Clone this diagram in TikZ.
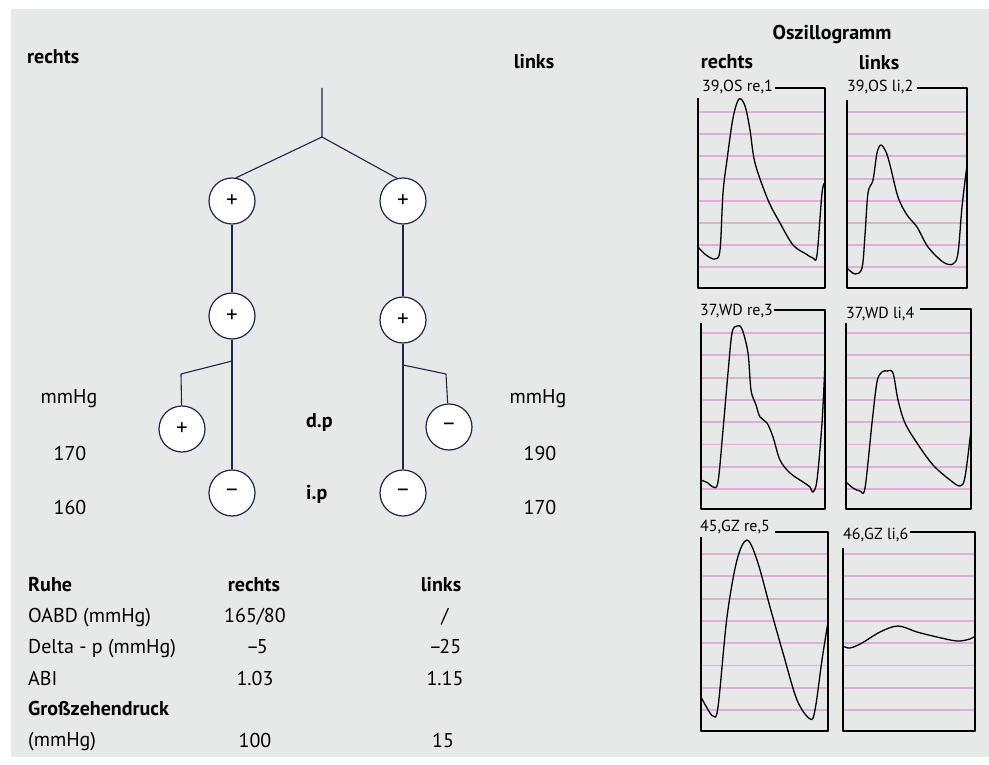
\documentclass[tikz,border=0pt]{standalone}
\usepackage{fontspec}
\setmainfont{PT Sans}
\definecolor{bgc}{RGB}{231,232,232}
\definecolor{navy}{RGB}{30,38,78}
\definecolor{rasterpink}{RGB}{222,174,216}

\begin{document}
\begin{tikzpicture}[x=1pt,y=-1pt,join=round,
        knot/.style={circle,draw=navy,fill=white,line width=1.2pt,minimum size=46pt,inner sep=0pt,font=\fontsize{23}{23}\selectfont},
        ast/.style={draw=navy,line width=1.1pt},
        txt/.style={inner sep=0pt,text height=14pt,text depth=0pt,font=\fontsize{20}{22}\selectfont},
        fett/.style={txt,font=\fontsize{20}{22}\selectfont\bfseries},
        osc/.style={inner sep=0pt,anchor=mid west,font=\fontsize{16}{16}\selectfont},
        rahmen/.style={line width=1.5pt},
        raster/.style={rasterpink,line width=1.9pt},
        kurve/.style={line width=1.3pt}] % Segmentdruck und Oszillogramm
        \useasboundingbox (0,0) rectangle (989,765);
        \fill[bgc] (11,9) rectangle (989,757);

        % Baum
        \coordinate (spitze) at (322,88);
        \coordinate (gabel) at (322,137);
        \node[knot] (re1) at (232,201) {+};
        \node[knot] (li1) at (403,201) {+};
        \node[knot] (re2) at (232,316) {+};
        \node[knot] (li2) at (403,320) {+};
        \node[knot] (resm) at (182,429) {+};
        \node[knot] (lism) at (449,427) {–};
        \node[knot] (re3) at (232,493) {–};
        \node[knot] (li3) at (403,493) {–};
        \coordinate (jre) at (232,361);
        \coordinate (kre) at (181,374);
        \coordinate (jli) at (403,365);
        \coordinate (kli) at (446,374);
        \draw[ast] (spitze) -- (gabel) -- (re1.80);
        \draw[ast] (gabel) -- (li1.105);
        \draw[ast] (re1) -- (re2);
        \draw[ast] (li1) -- (li2);
        \draw[ast] (re2) -- (re3);
        \draw[ast] (li2) -- (li3);
        \draw[ast] (jre) -- (kre) -- (resm);
        \draw[ast] (jli) -- (kli) -- (lism);

        \node[fett,anchor=west] (titre) at (27,57) {rechts};
        \node[fett] (titli) at (534,62) {links};
        \node[txt] (mmre) at (69,396) {mmHg};
        \node[txt] (dpre) at (70,453) {170};
        \node[txt] (ipre) at (70,507) {160};
        \node[txt] (mmli) at (538,396) {mmHg};
        \node[txt] (dpli) at (540,453) {190};
        \node[txt] (ipli) at (540,507) {170};
        \node[fett,anchor=west] (dp) at (306,420) {d.p};
        \node[fett,anchor=west] (ip) at (306,492) {i.p};

        % Tabelle
        \node[fett,anchor=west] (ruhe) at (28,584) {Ruhe};
        \node[fett] (tre) at (254,584) {rechts};
        \node[fett] (tli) at (441,584) {links};
        \node[txt,anchor=west] (oabd) at (28,615) {OABD (mmHg)};
        \node[txt] (oabdre) at (255,615) {165/80};
        \node[txt] (oabdli) at (445,615) {/};
        \node[txt,anchor=west] (delta) at (28,646) {Delta - p (mmHg)};
        \node[txt] (deltare) at (257,646) {–\kern-2.5pt5};
        \node[txt] (deltali) at (445,646) {–\kern-2.5pt25};
        \node[txt,anchor=west] (abi) at (28,678) {ABI};
        \node[txt] (abire) at (255,678) {1.03};
        \node[txt] (abili) at (445,678) {1.15};
        \node[fett,anchor=west] (gzd) at (28,708) {Großzehendruck};
        \node[txt,anchor=west] (gzdmm) at (28,739) {(mmHg)};
        \node[txt] (gzdre) at (255,740) {100};
        \node[txt] (gzdli) at (443,740) {15};

        % Oszillogramme
        \node[fett] (osz) at (832,33) {Oszillogramm};
        \node[fett] (oszre) at (727,62) {rechts};
        \node[fett] (oszli) at (879,63) {links};

        \foreach \k in {0,...,7} {
                \draw[raster] (698,{112+22.2*\k}) -- (825,{112+22.2*\k});
                \draw[raster] (847,{112+22.2*\k}) -- (967,{112+22.2*\k});
                \draw[raster] (701,{333+22.3*\k}) -- (825,{333+22.3*\k});
                \draw[raster] (846,{333+22.3*\k}) -- (971,{333+22.3*\k});
                \draw[raster] (701,{554+22.3*\k}) -- (828,{554+22.3*\k});
                \draw[raster] (843,{554+22.3*\k}) -- (975,{554+22.3*\k});
        }
        \draw[rahmen] (775,88) -| (825,288) -| (698,98);
        \draw[rahmen] (917,88) -| (967,288) -| (847,100);
        \draw[rahmen] (774,310) -| (825,509) -| (701,323);
        \draw[rahmen] (920,309) -| (971,509) -| (846,323);
        \draw[rahmen] (775,532) -| (828,731) -| (701,537);
        \draw[rahmen] (910,532) -| (975,731) -| (843,548);
        \node[osc] (o1) at (702,89) {39,OS re,1};
        \node[osc] (o2) at (847,89) {39,OS li,2};
        \node[osc] (o3) at (700,313) {37,WD re,3};
        \node[osc] (o4) at (846,316) {37,WD li,4};
        \node[osc] (o5) at (700,529) {45,GZ re,5};
        \node[osc] (o6) at (843,537) {46,GZ li,6};

        \draw[kurve] plot[smooth,tension=0.55] coordinates {(698,247) (706,255) (715,259) (720,250) (723,193) (727,160) (733,118) (739,99) (745,106) (750,130) (755,163) (768,200) (780,223) (793,245) (806,254) (813,258) (817,255) (822,193) (825,183)};
        \draw[kurve] plot[smooth,tension=0.55] coordinates {(847,268) (855,274) (862,268) (865,235) (868,193) (873,180) (877,153) (881,145) (886,152) (890,165) (898,197) (907,215) (917,227) (928,247) (943,262) (953,264) (958,253) (962,207) (967,165)};
        \draw[kurve] plot[smooth,tension=0.55] coordinates {(701,480) (708,483) (713,487) (718,482) (723,430) (728,373) (732,333) (737,326) (742,329) (748,353) (751,390) (756,405) (760,417) (767,423) (773,437) (780,460) (790,473) (803,482) (810,487) (813,492) (817,480) (822,423) (825,363)};
        \draw[kurve] plot[smooth,tension=0.55] coordinates {(846,482) (853,488) (860,491) (865,488) (872,423) (877,382) (882,372) (887,371) (893,373) (898,400) (905,423) (917,443) (933,465) (950,480) (960,486) (965,477) (971,430)};
        \draw[kurve] plot[smooth,tension=0.55] coordinates {(701,697) (707,708) (713,716) (718,707) (727,617) (737,560) (747,540) (757,560) (770,607) (783,653) (797,700) (810,719) (815,710) (822,660) (828,622)};
        \draw[kurve] plot[smooth,tension=0.55] coordinates {(843,646) (850,648) (862,643) (880,632) (898,626) (917,632) (937,637) (957,641) (970,639) (975,636)};
\end{tikzpicture}
\end{document}
